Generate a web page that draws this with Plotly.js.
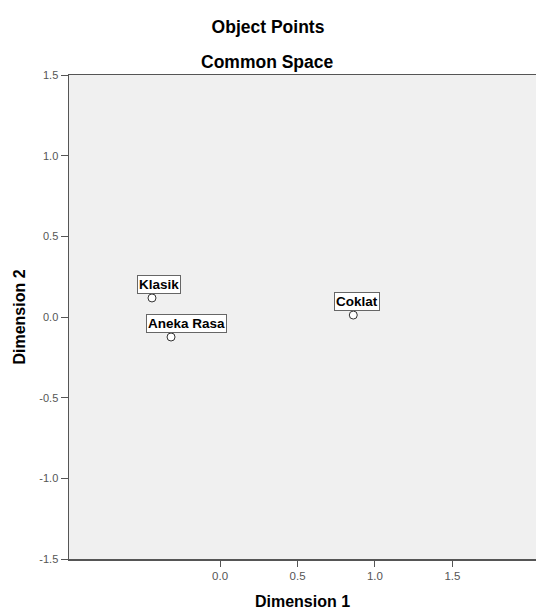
<!DOCTYPE html>
<html>
<head>
<meta charset="utf-8">
<script src="https://cdn.plot.ly/plotly-3.0.1.min.js"></script>
<style>html,body{margin:0;padding:0;background:#fff;}#chart{width:536px;height:610px;}</style>
</head>
<body>
<div id="chart"></div>
<script>
const labels = ["Klasik", "Aneka Rasa", "Coklat"];
const dim1 = [-0.44, -0.317, 0.86];
const dim2 = [0.118, -0.124, 0.012];
const xTicks = [0.0, 0.5, 1.0, 1.5];
const xTickText = ["0.0", "0.5", "1.0", "1.5"];
const yTicks = [-1.5, -1.0, -0.5, 0.0, 0.5, 1.0, 1.5];
const yTickText = ["-1.5", "-1.0", "-0.5", "0.0", "0.5", "1.0", "1.5"];

const labelShift = {"Klasik": [7, 13], "Aneka Rasa": [15, 14], "Coklat": [4, 13.5]};

const trace = {
  x: dim1, y: dim2, mode: "markers", type: "scatter",
  marker: {symbol: "circle", size: 8, color: "#ffffff", line: {color: "#333333", width: 1}},
  hoverinfo: "skip"
};

const annotations = labels.map((t, i) => ({
  x: dim1[i], y: dim2[i], xref: "x", yref: "y", text: t, showarrow: false,
  xshift: labelShift[t][0], yshift: labelShift[t][1],
  font: {family: "Liberation Sans, Arial, sans-serif", size: 13.5, color: "#000", weight: "bold"},
  bgcolor: "#ffffff", bordercolor: "#666666", borderwidth: 1, borderpad: 1
}));
annotations.push({
  xref: "paper", yref: "paper", x: 0.426, y: 1 + 13/484, xanchor: "center", yanchor: "middle",
  text: "<b>Common Space</b>", showarrow: false,
  font: {family: "Liberation Sans, Arial, sans-serif", size: 17.5, color: "#000"}
});

const layout = {
  width: 536, height: 610,
  margin: {l: 69, r: 0, t: 75, b: 51},
  paper_bgcolor: "#ffffff", plot_bgcolor: "#f0f0f0",
  showlegend: false,
  title: {text: "<b>Object Points</b>", x: 0.5, xanchor: "center", y: 1 - 27/610, yanchor: "middle",
          font: {family: "Liberation Sans, Arial, sans-serif", size: 17.5, color: "#000"}},
  xaxis: {
    range: [-0.976, 2.04], tickvals: xTicks, ticktext: xTickText,
    showgrid: false, zeroline: false, showline: true, linecolor: "#555", linewidth: 1.5, mirror: true,
    ticks: "outside", ticklen: 6, tickcolor: "#555", tickwidth: 1,
    tickfont: {family: "Liberation Sans, Arial, sans-serif", size: 11.5, color: "#555"},
    title: {text: "<b>Dimension 1</b>", standoff: 16,
            font: {family: "Liberation Sans, Arial, sans-serif", size: 16, color: "#000"}}
  },
  yaxis: {
    range: [-1.5, 1.5], tickvals: yTicks, ticktext: yTickText,
    showgrid: false, zeroline: false, showline: true, linecolor: "#555", linewidth: 1.5,
    ticks: "outside", ticklen: 7, tickcolor: "#555", tickwidth: 1,
    tickfont: {family: "Liberation Sans, Arial, sans-serif", size: 11, color: "#555"},
    title: {text: "<b>Dimension 2</b>", standoff: 9,
            font: {family: "Liberation Sans, Arial, sans-serif", size: 16, color: "#000"}}
  },
  annotations: annotations
};

Plotly.newPlot("chart", [trace], layout, {displayModeBar: false, staticPlot: true});
</script>
</body>
</html>
